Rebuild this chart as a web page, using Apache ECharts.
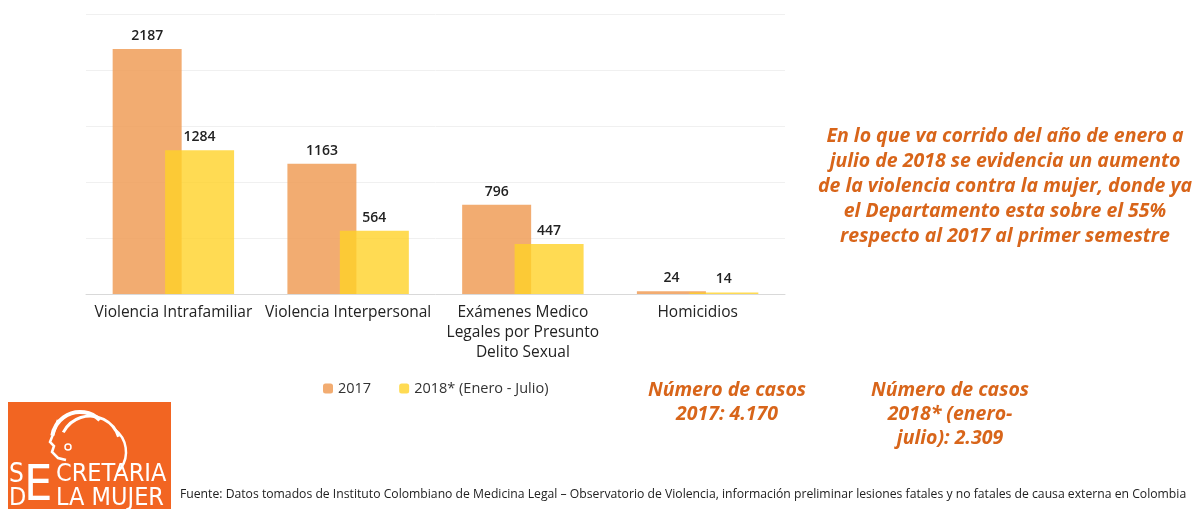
<!DOCTYPE html>
<html>
<head>
<meta charset="utf-8">
<script src="https://cdn.jsdelivr.net/npm/echarts@6/dist/echarts.min.js"></script>
<style>
  html, body { margin: 0; padding: 0; background: #fff; }
  #chart { width: 1201px; height: 509px; }
</style>
</head>
<body>
<div id="chart"></div>
<script>
const categories = [
  'Violencia Intrafamiliar',
  'Violencia Interpersonal',
  'Exámenes Medico\nLegales por Presunto\nDelito Sexual',
  'Homicidios'
]
const values2017 = [2187, 1163, 796, 24]
const values2018 = [1284, 564, 447, 14]
const seriesNames = ['2017', '2018* (Enero - Julio)']

const ORANGE_TXT = '#d8651a'
const FONT = '"Open Sans", "Liberation Sans", sans-serif'
const LOGO_FONT = '"DejaVu Sans Condensed", "Liberation Sans Narrow", sans-serif'

const chart = echarts.init(document.getElementById('chart'))

const barLabel = {
  show: true,
  position: 'top',
  color: '#222',
  fontSize: 14,
  fontWeight: 600,
  fontFamily: FONT,
  distance: 6
}

// multi-line text centred on x
const centerText = (x, y, text, size, lh) => ({
  type: 'text',
  x: x,
  y: y,
  style: {
    text: text,
    align: 'center',
    verticalAlign: 'top',
    fill: ORANGE_TXT,
    font: 'italic bold ' + size + 'px ' + FONT,
    lineHeight: lh
  }
})

const option = {
  animation: false,
  textStyle: { fontFamily: FONT },
  grid: { left: 86, right: 416, top: 14, bottom: 215 },
  legend: {
    data: seriesNames,
    left: 318,
    top: 376,
    itemWidth: 10,
    itemHeight: 10,
    itemGap: 28,
    textStyle: { fontSize: 14.5, color: '#333' }
  },
  xAxis: {
    type: 'category',
    data: categories,
    axisTick: { show: false },
    axisLine: { lineStyle: { color: '#d9d9d9', width: 1 } },
    axisLabel: { color: '#222', fontSize: 15.5, lineHeight: 20, margin: 9, interval: 0 }
  },
  yAxis: {
    type: 'value',
    min: 0,
    max: 2500,
    interval: 500,
    axisLabel: { show: false },
    axisLine: { show: false },
    axisTick: { show: false },
    splitLine: { lineStyle: { color: '#f0f0f0' } }
  },
  series: [
    {
      name: seriesNames[0],
      type: 'bar',
      data: values2017,
      barWidth: 69,
      barGap: '-24%',
      itemStyle: { color: 'rgba(240,158,88,0.85)' },
      label: barLabel
    },
    {
      name: seriesNames[1],
      type: 'bar',
      data: values2018,
      barWidth: 69,
      itemStyle: { color: 'rgba(255,210,40,0.8)' },
      label: barLabel
    }
  ],
  graphic: [
    centerText(1005, 124, 'En lo que va corrido del año de enero a\njulio de 2018 se evidencia un aumento\nde la violencia contra la mujer, donde ya\nel Departamento esta sobre el 55%\nrespecto al 2017 al primer semestre', 19.5, 25),
    centerText(727, 378, 'Número de casos\n2017: 4.170', 19.5, 24),
    centerText(950, 378, 'Número de casos\n2018* (enero-\njulio): 2.309', 19.5, 24),
    {
      type: 'rect',
      shape: { x: 8, y: 402, width: 163, height: 107 },
      style: { fill: '#f26522' }
    },
    {
      type: 'group',
      children: [
        { type: 'arc', shape: { cx: 80, cy: 440, r: 28, startAngle: Math.PI * 1.05, endAngle: Math.PI * 1.75 }, style: { stroke: '#fff', lineWidth: 4, fill: null } },
        { type: 'arc', shape: { cx: 90, cy: 446, r: 30, startAngle: Math.PI * 1.15, endAngle: Math.PI * 1.9 }, style: { stroke: '#fff', lineWidth: 3, fill: null } },
        { type: 'arc', shape: { cx: 98, cy: 452, r: 28, startAngle: Math.PI * 1.7, endAngle: Math.PI * 0.25 }, style: { stroke: '#fff', lineWidth: 2.5, fill: null } },
        { type: 'polyline', shape: { points: [[58, 420], [54, 432], [50, 442], [54, 446], [52, 452], [58, 458], [66, 460]] }, style: { stroke: '#fff', lineWidth: 2.5, fill: null } },
        { type: 'circle', shape: { cx: 68, cy: 447, r: 3 }, style: { stroke: '#fff', lineWidth: 1.5, fill: null } }
      ]
    },
    { type: 'text', x: 9, y: 462, style: { text: 'S', fill: '#fff', font: '26px ' + LOGO_FONT } },
    { type: 'text', x: 24, y: 462, style: { text: 'E', fill: '#fff', font: '50px ' + LOGO_FONT } },
    { type: 'text', x: 9, y: 486, style: { text: 'D', fill: '#fff', font: '25px ' + LOGO_FONT } },
    { type: 'text', x: 56, y: 462, style: { text: 'CRETARIA', fill: '#fff', font: '25px ' + LOGO_FONT } },
    { type: 'text', x: 56, y: 486, style: { text: 'LA MUJER', fill: '#fff', font: '25px ' + LOGO_FONT } },
    {
      type: 'text',
      x: 180,
      y: 489,
      style: {
        text: 'Fuente: Datos tomados de Instituto Colombiano de Medicina Legal – Observatorio de Violencia, información preliminar lesiones fatales y no fatales de causa externa en Colombia',
        fill: '#222',
        font: '12.2px ' + FONT
      }
    }
  ]
}

chart.setOption(option)
window.addEventListener('resize', () => chart.resize())
</script>
</body>
</html>
